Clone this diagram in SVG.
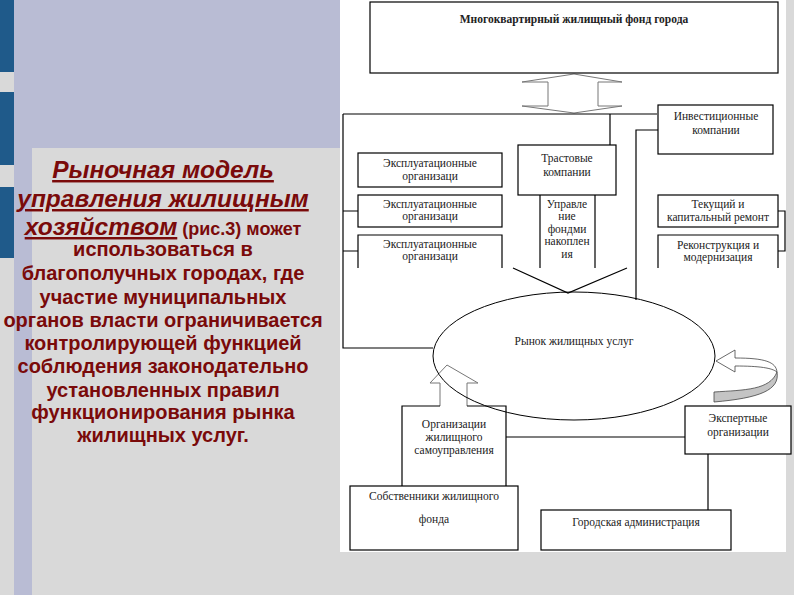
<svg xmlns="http://www.w3.org/2000/svg" width="794" height="595" viewBox="0 0 794 595">
<style>
.b{fill:#fff;stroke:#000;stroke-width:1.2}
.l{fill:none;stroke:#000;stroke-width:1.2}
.g{fill:none;stroke:#777;stroke-width:1}
.t{font-family:"Liberation Serif",serif;font-size:11.5px;text-anchor:middle;fill:#222}
.h{font-family:"Liberation Sans",sans-serif;font-weight:bold;fill:#7a0a0a;text-anchor:middle}
.hi{font-style:italic;text-decoration:underline;font-size:24.5px}
.n{font-size:20px}
</style>
<rect width="794" height="595" fill="#d9d9d9"/>
<rect x="14" y="0" width="326" height="148" fill="#b9bcd4"/>
<rect x="14" y="148" width="18" height="447" fill="#b9bcd4"/>
<rect x="0" y="0" width="14" height="72" fill="#1f5a8a"/>
<rect x="0" y="92" width="14" height="73" fill="#1f5a8a"/>
<rect x="0" y="187" width="14" height="71" fill="#1f5a8a"/>
<rect x="340" y="0" width="446" height="552" fill="#fff"/>
<g id="caption">
<text class="h hi" x="163" y="178">Рыночная модель</text>
<text class="h hi" x="163" y="207">управления жилищным</text>
<text class="h" x="163" y="235"><tspan class="hi">хозяйством</tspan><tspan font-size="18" font-style="normal" text-decoration="none"> (рис.3) может</tspan></text>
<text class="h n" x="163" y="256">использоваться в</text>
<text class="h n" x="163" y="280">благополучных городах, где</text>
<text class="h n" x="163" y="304">участие муниципальных</text>
<text class="h n" x="163" y="327">органов власти ограничивается</text>
<text class="h n" x="163" y="350">контролирующей функцией</text>
<text class="h n" x="163" y="373">соблюдения законодательно</text>
<text class="h n" x="163" y="397">установленных правил</text>
<text class="h n" x="163" y="419">функционирования рынка</text>
<text class="h n" x="163" y="442">жилищных услуг.</text>
</g>
<g id="connectors">
<path class="g" d="M574,74 L522,82 L548,82 L548,106 L522,106 L574,113 L622,106 L598,106 L598,82 L622,82 Z"/>
<path class="l" d="M343,114 H657 M343,114 V348 H433 M610,114 V145 M343,211 H358 M343,251 H358"/>
<path class="l" d="M540,195 V268 M595,195 V268 M513,268 L568,293 L627,268"/>
<path class="l" d="M658,130 H636 V300"/>
<path class="l" d="M778,211 H785 V251 H778"/>
<path class="l" d="M506,437 H685 M708,454 V510"/>
<path class="g" d="M447,365 L430,383 L440,383 L440,406 M447,365 L478,383 L467,383 L467,406"/>
<path fill="#c4c4c4" stroke="#444" stroke-width="0.8" d="M714,402 C760,398 780,390 777,372 C770,390 745,390 714,392 Z"/>
<path fill="#fff" stroke="#444" stroke-width="0.8" d="M777,372 C776,362 765,358 735,358 L735,350 L716,361 L735,372 L735,366 C760,366 772,368 777,372"/>
</g>
<g id="fund"><rect class="b" x="370" y="2" width="408" height="71"/><text class="t" x="574" y="23" font-weight="bold" font-size="11.5">Многоквартирный жилищный фонд города</text></g>
<g id="exp1"><rect class="b" x="358" y="153" width="144" height="34"/><text class="t" x="430" y="167">Эксплуатационные</text><text class="t" x="430" y="180">организаци</text></g>
<g id="exp2"><rect class="b" x="358" y="195" width="144" height="32"/><text class="t" x="430" y="208">Эксплуатационные</text><text class="t" x="430" y="220">организаци</text></g>
<g id="exp3"><path class="l" d="M358,268 V235 H502 V268"/><text class="t" x="430" y="248">Эксплуатационные</text><text class="t" x="430" y="260">организаци</text></g>
<g id="trust"><rect class="b" x="518" y="145" width="98" height="50"/><text class="t" x="567" y="162" font-size="12.5">Трастовые</text><text class="t" x="567" y="176" font-size="12.5">компании</text></g>
<g id="funds"><text class="t" x="567" y="208">Управле</text><text class="t" x="567" y="220">ние</text><text class="t" x="567" y="233">фондми</text><text class="t" x="567" y="245">накоплен</text><text class="t" x="567" y="258">ия</text></g>
<g id="invest"><rect class="b" x="658" y="105" width="115" height="49"/><text class="t" x="716" y="120">Инвестиционные</text><text class="t" x="716" y="134">компании</text></g>
<g id="repair"><rect class="b" x="658" y="195" width="120" height="32"/><text class="t" x="718" y="208">Текущий и</text><text class="t" x="718" y="221">капитальный ремонт</text></g>
<g id="recon"><path class="l" d="M658,268 V235 H778 V268"/><text class="t" x="718" y="249">Реконструкция и</text><text class="t" x="718" y="261">модернизация</text></g>
<g id="market"><ellipse cx="574" cy="356" rx="141" ry="64" fill="none" stroke="#000" stroke-width="1"/><text class="t" x="574" y="345">Рынок жилищных услуг</text></g>
<g id="selfgov"><path class="l" d="M402,486 V406 H440 M467,406 H506 V486"/><text class="t" x="454" y="428" font-size="10">Организации</text><text class="t" x="454" y="441" font-size="10">жилищного</text><text class="t" x="454" y="454" font-size="10">самоуправления</text></g>
<g id="experts"><rect class="b" x="685" y="406" width="106" height="48"/><text class="t" x="738" y="422">Экспертные</text><text class="t" x="738" y="436">организации</text></g>
<g id="owners"><rect class="b" x="350" y="486" width="168" height="64"/><text class="t" x="434" y="500">Собственники жилищного</text><text class="t" x="434" y="523">фонда</text></g>
<g id="admin"><rect class="b" x="541" y="510" width="190" height="40"/><text class="t" x="636" y="526">Городская администрация</text></g>
</svg>
